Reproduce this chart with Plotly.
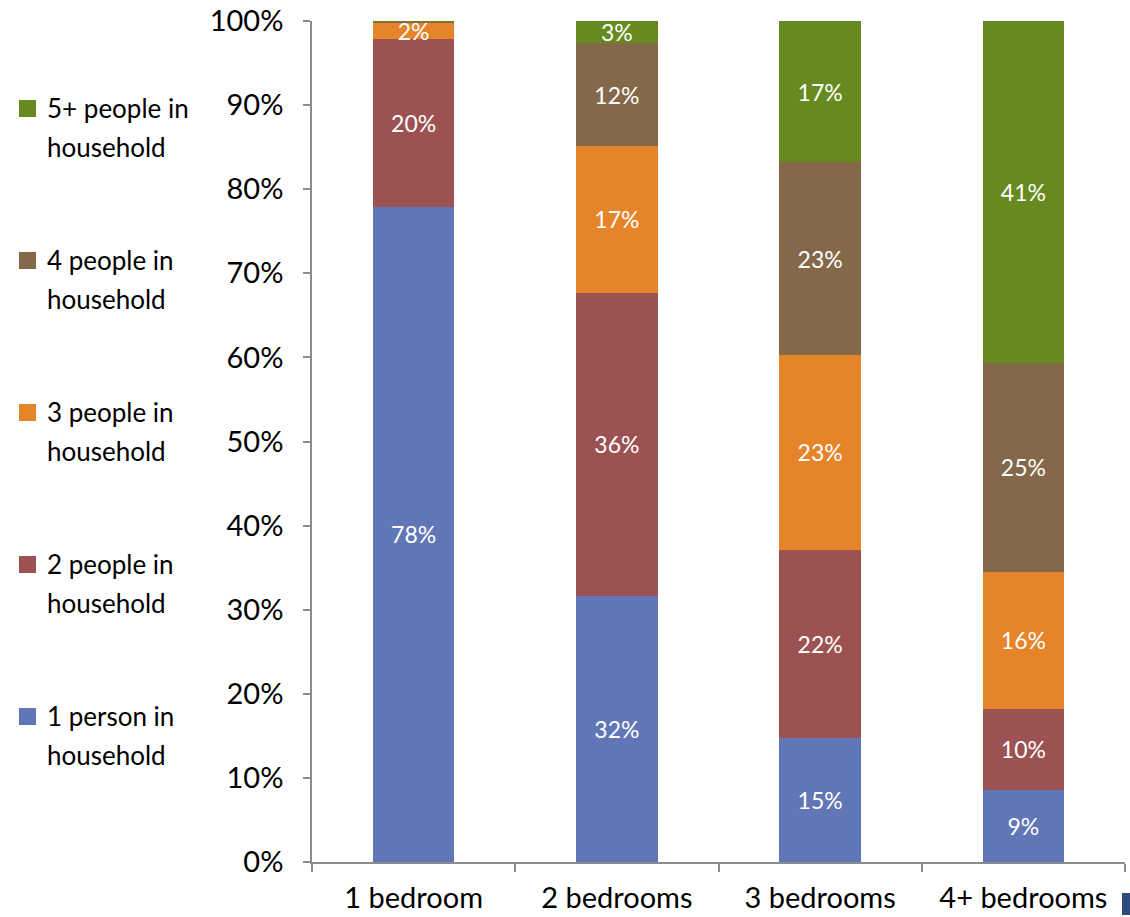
import plotly.graph_objects as go

# Share of households by size, within each bedroom category (percent)
categories = ["1 bedroom", "2 bedrooms", "3 bedrooms", "4+ bedrooms"]
series_names = [
    "1 person in household",
    "2 people in household",
    "3 people in household",
    "4 people in household",
    "5+ people in household",
]
one_person = [77.9, 31.6, 14.7, 8.6]
two_people = [20.0, 36.1, 22.4, 9.6]
three_people = [1.9, 17.4, 23.2, 16.3]
four_people = [0.1, 12.3, 22.9, 24.85]
five_plus = [0.1, 2.6, 16.8, 40.65]

colors = ["#6176B6", "#9C5152", "#E6842A", "#84684A", "#668A1F"]

FONT = "Lato, 'Open Sans', sans-serif"
W, H = 1130, 917
ML, MR, MT, MB = 312, 5, 21, 55
PLOT_W, PLOT_H = W - ML - MR, H - MT - MB


def px_x(px):
    return (px - ML) / PLOT_W


def px_y(py):
    return (H - MB - py) / PLOT_H


fig = go.Figure()
all_series = [one_person, two_people, three_people, four_people, five_plus]
for i, (name, vals, col) in enumerate(zip(series_names, all_series, colors)):
    labels = [f"{v:.0f}%" if v >= 1 else "" for v in vals]
    fig.add_trace(go.Bar(
        x=categories, y=vals, name=name,
        marker=dict(color=col, line=dict(width=0)),
        text=labels, textposition="inside", insidetextanchor="middle",
        textangle=0, constraintext="none",
        textfont=dict(color="white", size=23, family=FONT),
        hoverinfo="skip", showlegend=False,
    ))

# Legend drawn at the left: swatch + two-line label, largest household first
first_line_y = 108
item_step = 152
line_gap = 39
for rank, i in enumerate(reversed(range(len(series_names)))):
    y0 = first_line_y + rank * item_step
    head, tail = series_names[i].rsplit(" ", 1)
    fig.add_shape(type="rect", xref="paper", yref="paper",
                  x0=px_x(19), x1=px_x(36), y0=px_y(y0 + 9), y1=px_y(y0 - 8),
                  fillcolor=colors[i], line=dict(width=0))
    for k, txt in enumerate([head, tail]):
        fig.add_annotation(
            xref="paper", yref="paper", x=px_x(45), y=px_y(y0 + k * line_gap),
            xanchor="left", yanchor="middle", text=txt, showarrow=False,
            font=dict(size=26, family=FONT, color="black"),
        )

# small dark marker at the lower right edge
fig.add_shape(type="rect", xref="paper", yref="paper",
              x0=px_x(1122), x1=px_x(1130.5), y0=px_y(915), y1=px_y(893),
              fillcolor="#2E4A7E", line=dict(width=0), layer="above")

fig.update_layout(
    barmode="stack",
    bargap=0.6,
    width=W, height=H,
    margin=dict(l=ML, r=MR, t=MT, b=MB, autoexpand=False),
    paper_bgcolor="white", plot_bgcolor="white",
    font=dict(family=FONT, size=26, color="black"),
    showlegend=False,
    xaxis=dict(
        showline=True, linecolor="#8C8C8C", linewidth=1.5,
        ticks="outside", tickson="boundaries", ticklen=8,
        tickcolor="#8C8C8C", tickwidth=1.5, automargin=False,
        tickfont=dict(size=29), ticklabelstandoff=9, showgrid=False,
    ),
    yaxis=dict(
        range=[0, 100], dtick=10, ticksuffix="%",
        showline=True, linecolor="#8C8C8C", linewidth=1.5,
        ticks="outside", ticklen=7, tickcolor="#8C8C8C", tickwidth=1.5,
        tickfont=dict(size=29), ticklabelstandoff=14, automargin=False,
        showgrid=False, zeroline=False,
    ),
)

fig.write_html("out.html")
